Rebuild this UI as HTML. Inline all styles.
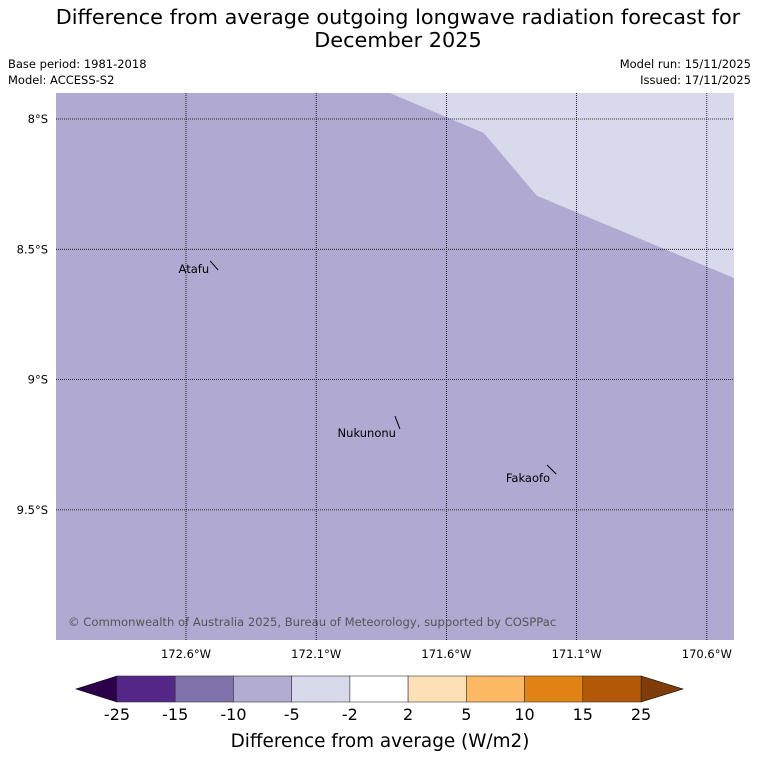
<!DOCTYPE html>
<html><head><meta charset="utf-8"><style>
body{margin:0;background:#fff;font-family:"DejaVu Sans","Liberation Sans",sans-serif}
svg{display:block}
</style></head><body>
<svg id="c" width="758" height="781" xmlns="http://www.w3.org/2000/svg">
<text x="398" y="24" font-size="20.8" text-anchor="middle">Difference from average outgoing longwave radiation forecast for</text>
<text x="398" y="47" font-size="20.8" text-anchor="middle">December 2025</text>
<text x="8" y="68" font-size="11.5">Base period: 1981-2018</text>
<text x="8" y="84" font-size="11.5">Model: ACCESS-S2</text>
<text x="751" y="68" font-size="11.5" text-anchor="end">Model run: 15/11/2025</text>
<text x="751" y="84" font-size="11.5" text-anchor="end">Issued: 17/11/2025</text>
<g id="map"></g>
<g id="cbar"></g>
<text x="380" y="747" font-size="18.4" text-anchor="middle">Difference from average (W/m2)</text>
</svg>
<script>
const lonTicks=[172.6,172.1,171.6,171.1,170.6];
const latTicks=[8,8.5,9,9.5];
const lightLons=[171.817,171.456,171.252,170.496,170.40,170.40];
const lightLats=[7.90,8.054,8.295,8.610,8.610,7.90];
const islandNames=["Atafu","Nukunonu","Fakaofo"];
const islandLons=[172.492,171.788,171.196];
const islandLats=[8.562,9.165,9.345];
const cbLevels=["-25","-15","-10","-5","-2","2","5","10","15","25"];
const cbColors=["#542788","#8073ac","#b2abd2","#d8daeb","#ffffff","#fee0b6","#fdb863","#e08214","#b35806"];
const NS="http://www.w3.org/2000/svg";
const X0=56,X1=734,Y0=93,Y1=640;
const xS=lon=>186+(172.6-lon)/0.5*130.2;
const yS=lat=>119+(lat-8)/0.5*130.3;
// label offsets / mark shapes (styling, not data)
const labelDx=[-5,-1.5,-1.5],labelDy=[7.5,14.5,12.5];
const markDx=[4,2.5,4.5],markDy=[4.5,6.5,4.5];
function mk(t,a,p){const e=document.createElementNS(NS,t);for(const k in a)e.setAttribute(k,a[k]);p.appendChild(e);return e;}
const map=document.getElementById('map');
const bg=mk('rect',{x:X0,y:Y0,width:X1-X0,height:Y1-Y0,fill:'#b0aad2'},map);


const cp=mk('clipPath',{id:'clip'},map);mk('rect',{x:X0,y:Y0,width:X1-X0,height:Y1-Y0},cp);
const pts=lightLons.map((l,i)=>xS(l)+','+yS(lightLats[i])).join(' ');
const lr=mk('polygon',{points:pts,fill:'#d8d9ea','clip-path':'url(#clip)'},map);


lonTicks.forEach(l=>{const x=xS(l);
const g=mk('line',{x1:x,x2:x,y1:Y0,y2:Y1,stroke:'#000','stroke-width':0.8,'stroke-dasharray':'1,1'},map);


const t=mk('text',{x:x,y:658,'font-size':11.5,'text-anchor':'middle'},map);t.textContent=l.toFixed(1)+'°W';

});
latTicks.forEach(l=>{const y=yS(l);
const g=mk('line',{x1:X0,x2:X1,y1:y,y2:y,stroke:'#000','stroke-width':0.8,'stroke-dasharray':'1,1'},map);


const t=mk('text',{x:48,y:y+4,'font-size':11.5,'text-anchor':'end'},map);t.textContent=(l%1?l.toFixed(1):l)+'°S';

});
islandNames.forEach((n,i)=>{const x=xS(islandLons[i]),y=yS(islandLats[i]);
const m=mk('line',{x1:x-markDx[i],y1:y-markDy[i],x2:x+markDx[i],y2:y+markDy[i],stroke:'#000','stroke-width':1},map);


const t=mk('text',{x:x+labelDx[i],y:y+labelDy[i],'font-size':11.5,'text-anchor':'end'},map);t.textContent=n;

});
const cr=mk('text',{x:68,y:626,'font-size':11.6,fill:'#555'},map);cr.textContent='© Commonwealth of Australia 2025, Bureau of Meteorology, supported by COSPPac';


const cb=document.getElementById('cbar');
const BX0=117,BX1=641,BY0=676,BY1=702,w=(BX1-BX0)/cbColors.length;
const lt=mk('polygon',{points:`${BX0},${BY0} ${BX0},${BY1} 76,689`,fill:'#2d004b',stroke:'#000','stroke-width':0.6},cb);


const rt=mk('polygon',{points:`${BX1},${BY0} ${BX1},${BY1} 683,689`,fill:'#7f3b08',stroke:'#000','stroke-width':0.6},cb);


cbColors.forEach((c,i)=>{const r=mk('rect',{x:BX0+i*w,y:BY0,width:w,height:BY1-BY0,fill:c,stroke:'#333','stroke-width':0.6},cb);

});
cbLevels.forEach((l,i)=>{const t=mk('text',{x:BX0+i*w,y:720,'font-size':16,'text-anchor':'middle'},cb);t.textContent=l;

});
</script>
</body></html>
